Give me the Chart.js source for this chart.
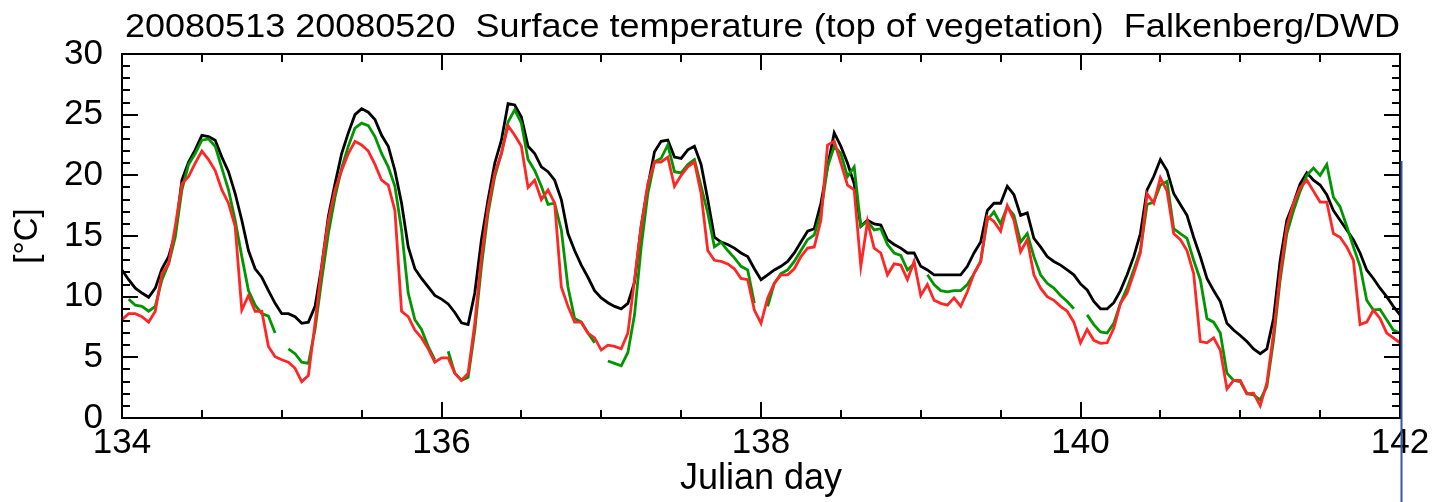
<!DOCTYPE html>
<html>
<head>
<meta charset="utf-8">
<script src="https://cdn.jsdelivr.net/npm/chart.js@4.4.0/dist/chart.umd.min.js"></script>
<style>
    body { margin: 0; background: white; }
    #wrap { width: 1441px; height: 502px; }
</style>
</head>
<body>
<div id="wrap"><canvas id="chart" width="1441" height="502"></canvas></div>
<script>
const chartTitle = "20080513 20080520  Surface temperature (top of vegetation)  Falkenberg/DWD";
const firstDay = 134;
const lastDay = 142;
const xTicks = [134, 136, 138, 140, 142];
const yTicks = [0, 5, 10, 15, 20, 25, 30];

// hourly values, one row per day (last row has the extra point at 142.0)
const blackT = [
    12.2, 11.4, 10.7, 10.3, 9.95, 10.7, 12.3, 13.3, 15.2, 19.6, 21.1, 22.1, 23.3, 23.2, 22.9, 21.5, 20.3, 18.5, 16.3, 13.8, 12.3, 11.6, 10.5, 9.45,
    8.6, 8.6, 8.35, 7.8, 7.9, 9.2, 12.5, 16.6, 19.3, 21.8, 23.5, 25.0, 25.5, 25.2, 24.6, 23.3, 22.4, 20.4, 17.7, 14.1, 12.3, 11.5, 10.8, 10.1,
    9.8, 9.4, 8.7, 7.85, 7.7, 10.3, 14.7, 18.0, 21.0, 22.9, 25.9, 25.8, 24.8, 22.4, 21.8, 20.7, 20.3, 19.6, 18.0, 15.2, 13.8, 12.6, 11.6, 10.5,
    9.9, 9.5, 9.2, 9.0, 9.45, 11.2, 15.8, 19.1, 21.95, 22.8, 22.9, 21.5, 21.4, 22.1, 22.4, 20.9, 18.0, 14.9, 14.5, 14.3, 14.0, 13.6, 13.3, 12.3,
    11.4, 11.8, 12.2, 12.5, 12.9, 13.6, 14.5, 15.4, 15.6, 17.7, 20.7, 23.5, 22.4, 21.0, 19.3, 15.8, 16.3, 16.0, 15.9, 14.7, 14.3, 14.0, 13.6, 13.6,
    12.5, 12.2, 11.8, 11.8, 11.8, 11.8, 11.8, 12.5, 13.6, 14.5, 17.1, 17.7, 17.7, 19.1, 18.4, 16.7, 16.9, 14.8, 14.1, 13.3, 12.9, 12.6, 12.2, 11.8,
    11.05, 10.55, 9.6, 9.0, 9.0, 9.5, 10.5, 11.8, 13.3, 15.2, 18.8, 19.9, 21.3, 20.4, 18.5, 17.6, 16.7, 14.9, 13.3, 11.5, 10.5, 9.6, 7.8, 7.25,
    6.8, 6.3, 5.7, 5.3, 5.7, 8.2, 13.0, 16.3, 17.7, 19.3, 20.2, 19.6, 19.2, 18.4, 17.1, 16.3, 15.5, 14.7, 13.6, 12.2, 11.5, 10.7, 10.0, 9.2,
    8.5
];

const greenT = [
    null, 9.8, 9.3, 9.2, 8.8, 9.2, 11.4, 12.7, 14.9, 18.8, 20.9, 21.8, 22.9, 23.0, 22.4, 20.6, 18.8, 16.3, 13.3, 10.5, 9.3, 8.6, 8.4, 7.0,
    null, 5.7, 5.3, 4.6, 4.5, 7.3, 11.4, 15.2, 18.2, 20.6, 22.4, 23.9, 24.3, 24.1, 23.2, 21.8, 20.7, 19.1, 15.5, 10.3, 8.1, 7.3, 5.9, 4.8,
    null, 5.5, 3.7, 3.1, 3.35, 7.2, 12.5, 16.9, 19.9, 21.8, 24.4, 25.4, 24.3, 21.3, 20.4, 19.1, 17.6, 17.7, 15.5, 10.8, 8.2, 7.9, 7.0, 6.2,
    null, 4.7, 4.5, 4.3, 5.4, 8.5, 14.1, 18.5, 21.1, 21.4, 22.5, 20.3, 20.2, 20.9, 21.3, 19.1, 16.9, 14.1, 14.5, 13.8, 13.2, 12.5, 12.2, 9.45,
    null, 9.2, 11.1, 11.9, 12.2, 12.9, 13.8, 14.7, 15.1, 16.9, 20.7, 22.4, 21.8, 19.9, 20.7, 15.8, 16.2, 15.5, 15.6, 14.3, 13.6, 13.4, 12.2, 12.7,
    null, 11.8, 11.0, 10.5, 10.4, 10.5, 10.5, 11.0, 11.9, 12.9, 16.3, 17.0, 16.0, 17.4, 16.7, 14.5, 15.2, 13.3, 11.8, 11.1, 10.7, 10.1, 9.6, 9.0,
    null, 8.5, 7.7, 7.1, 7.0, 7.8, 9.45, 10.7, 12.2, 13.8, 17.6, 17.8, 19.2, 19.5, 15.6, 15.2, 14.8, 13.0, 11.4, 8.2, 7.9, 7.0, 3.7, 3.1,
    3.0, 2.0, 1.9, 1.5, 2.6, 6.4, 11.4, 15.2, 17.1, 18.7, 20.0, 20.6, 20.0, 20.9, 18.2, 17.4, 15.8, 14.1, 12.5, 9.7, 8.9, 8.95, 8.1, 7.25,
    7.0
];

const redT = [
    8.1, 8.6, 8.6, 8.35, 7.9, 8.8, 11.9, 12.7, 15.8, 19.3, 19.9, 21.0, 22.0, 21.3, 20.4, 18.8, 17.7, 15.8, 8.9, 10.1, 8.8, 8.8, 5.9, 5.05,
    4.8, 4.6, 4.1, 3.0, 3.5, 7.8, 12.5, 16.3, 18.8, 20.4, 21.8, 22.8, 22.5, 22.0, 20.9, 19.6, 19.2, 17.1, 8.8, 8.35, 7.25, 6.6, 5.7, 4.6,
    4.95, 4.95, 3.7, 3.1, 3.7, 7.8, 13.3, 17.4, 20.2, 21.8, 24.1, 23.3, 22.4, 19.0, 19.6, 18.0, 18.8, 17.7, 10.8, 9.2, 7.9, 7.9, 7.0, 6.6,
    5.6, 6.0, 5.9, 5.7, 7.0, 11.4, 15.8, 19.3, 21.1, 21.1, 21.5, 19.1, 20.0, 20.7, 21.1, 18.5, 13.8, 13.0, 12.9, 12.7, 12.3, 11.5, 11.4, 8.9,
    7.8, 9.9, 11.1, 11.8, 11.8, 12.3, 13.3, 14.0, 14.1, 16.3, 22.5, 22.8, 21.0, 19.2, 18.8, 12.5, 16.2, 14.0, 13.6, 11.8, 12.7, 12.6, 11.4, 12.9,
    10.1, 11.0, 9.7, 9.45, 9.3, 9.9, 9.2, 10.4, 11.9, 12.9, 16.6, 16.2, 15.4, 17.5, 16.3, 13.7, 14.7, 11.8, 10.7, 10.0, 9.7, 9.2, 8.8, 7.9,
    6.2, 7.3, 6.4, 6.15, 6.2, 7.4, 9.45, 10.3, 11.9, 13.6, 18.5, 17.7, 19.8, 18.7, 15.2, 14.7, 13.8, 11.9, 6.3, 6.2, 6.6, 5.6, 2.4, 3.1,
    3.1, 2.0, 2.05, 1.0, 2.9, 7.0, 11.9, 15.8, 17.7, 19.0, 19.6, 18.7, 17.8, 17.8, 15.2, 14.9, 14.1, 13.0, 7.7, 7.9, 8.9, 8.2, 7.0, 6.6,
    6.2
];

function toPoints(values) {
    return values.map(function (v, i) {
        return { x: firstDay + i / 24, y: v };
    });
}

const fontName = "'Liberation Sans', Arial, Helvetica, sans-serif";

// frame, inward ticks on all four sides, title and the blue stripe at the right
const framePlugin = {
    id: "frame",
    afterDraw(chart) {
        const ctx = chart.ctx;
        const area = chart.chartArea;
        const xs = chart.scales.x;
        const ys = chart.scales.y;
        ctx.save();
        ctx.strokeStyle = "#000";
        ctx.lineWidth = 2;
        ctx.strokeRect(area.left, area.top, area.right - area.left, area.bottom - area.top);

        ctx.beginPath();
        for (let d = firstDay; d <= lastDay; d += 0.5) {
            const px = Math.round(xs.getPixelForValue(d));
            const len = (d % 2 === 0) ? 16 : 8;
            ctx.moveTo(px, area.bottom);
            ctx.lineTo(px, area.bottom - len);
            ctx.moveTo(px, area.top);
            ctx.lineTo(px, area.top + len);
        }
        for (let v = 0; v <= 30; v += 1) {
            const py = Math.round(ys.getPixelForValue(v));
            const len = (v % 5 === 0) ? 16 : 8;
            ctx.moveTo(area.left, py);
            ctx.lineTo(area.left + len, py);
            ctx.moveTo(area.right, py);
            ctx.lineTo(area.right - len, py);
        }
        ctx.stroke();

        ctx.strokeStyle = "#3b55a0";
        ctx.lineWidth = 2;
        ctx.beginPath();
        ctx.moveTo(area.right + 1.5, 161);
        ctx.lineTo(area.right + 1.5, chart.height);
        ctx.stroke();

        ctx.fillStyle = "#000";
        ctx.font = "33px " + fontName;
        ctx.textBaseline = "alphabetic";
        ctx.textAlign = "left";
        const w = ctx.measureText(chartTitle).width;
        const target = 1275;
        ctx.translate(125, 37);
        ctx.scale(target / w, 1);
        ctx.fillText(chartTitle, 0, 0);
        ctx.restore();
    }
};

new Chart(document.getElementById("chart"), {
    type: "line",
    data: {
        datasets: [
            { label: "red", data: toPoints(redT), borderColor: "rgb(255,38,38)", order: 0 },
            { label: "green", data: toPoints(greenT), borderColor: "rgb(0,150,0)", order: 1 },
            { label: "black", data: toPoints(blackT), borderColor: "#000", order: 2 }
        ]
    },
    options: {
        responsive: false,
        animation: false,
        spanGaps: false,
        layout: { padding: { left: 0, right: 41, top: 54, bottom: 0 } },
        elements: {
            line: { borderWidth: 2.8, tension: 0 },
            point: { radius: 0 }
        },
        plugins: {
            legend: { display: false },
            tooltip: { enabled: false }
        },
        scales: {
            x: {
                type: "linear",
                min: firstDay,
                max: lastDay,
                afterBuildTicks: function (scale) {
                    scale.ticks = xTicks.map(function (v) { return { value: v }; });
                },
                afterFit: function (scale) { scale.height = 84; },
                grid: { display: false, drawTicks: false },
                border: { display: false },
                ticks: {
                    color: "#000",
                    padding: 4,
                    maxRotation: 0,
                    font: { family: fontName, size: 35 }
                },
                title: {
                    display: true,
                    text: "Julian day",
                    color: "#000",
                    font: { family: fontName, size: 36, lineHeight: 1.1 },
                    padding: { top: 0, bottom: 3 }
                }
            },
            y: {
                min: 0,
                max: 30,
                afterBuildTicks: function (scale) {
                    scale.ticks = yTicks.map(function (v) { return { value: v }; });
                },
                afterFit: function (scale) { scale.width = 122; },
                grid: { display: false, drawTicks: false },
                border: { display: false },
                ticks: {
                    color: "#000",
                    padding: 19,
                    font: { family: fontName, size: 35 }
                },
                title: {
                    display: true,
                    text: "[°C]",
                    color: "#000",
                    font: { family: fontName, size: 33, lineHeight: 1.1 },
                    padding: { top: 10, bottom: 0 }
                }
            }
        }
    },
    plugins: [framePlugin]
});
</script>
</body>
</html>
